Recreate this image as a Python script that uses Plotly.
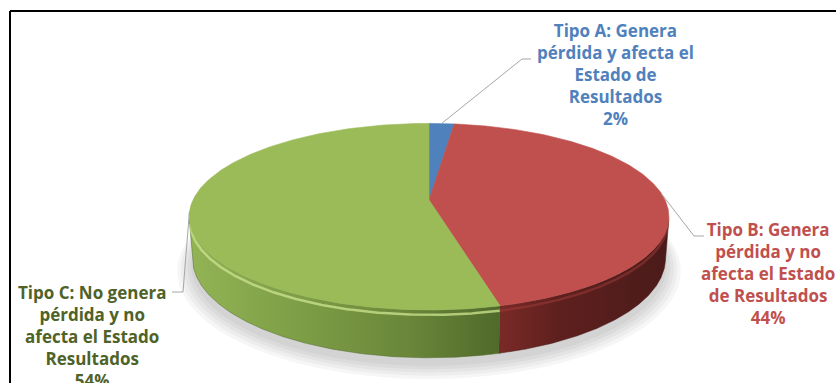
import numpy as np
import plotly.graph_objects as go

# ---------------- data ----------------
categories = ["Tipo A", "Tipo B", "Tipo C"]
values = [2, 44, 54]
label_texts = [
    "Tipo A: Genera<br>pérdida y afecta el<br>Estado de<br>Resultados",
    "Tipo B: Genera<br>pérdida y no<br>afecta el Estado<br>de Resultados",
    "Tipo C: No genera<br>pérdida y no<br>afecta el Estado<br>Resultados",
]

# ---------------- style / layout ----------------
W, H = 836, 383
top_colors = ["#4F81BD", "#C0504D", "#9BBB59"]
text_colors = ["#4F81BD", "#C0504D", "#4F6228"]
side_scales = [
    [[0, "#3a5f8c"], [1, "#2a4568"]],
    [[0, "#7a2a27"], [0.35, "#5e201e"], [1, "#4a1b1a"]],
    [[0, "#93b455"], [0.25, "#84a44a"], [0.7, "#6a873a"], [1, "#4f6a2a"]],
]
rim_colors = ["rgba(120,160,210,0.4)", "rgba(160,60,58,0.5)", "rgba(200,224,140,0.8)"]

CX, CY = 429, 200          # projected pie centre (pixels)
TILT = np.radians(22.5)
DIST = 5.16
FOC = 1218.0
THICK = 0.19
S, C = np.sin(TILT), np.cos(TILT)

label_pos = [(615, 74), (768, 273), (92, 336)]
leader_pts = [[(522, 59), (531, 59)], [(694, 236), (704, 236)], [(183, 292), (172, 292)]]


def proj(u, v, h):
    u = np.asarray(u, float); v = np.asarray(v, float); h = np.asarray(h, float)
    depth = DIST - h * S - v * C
    x = CX + u * FOC / depth
    y = CY - (h * C - v * S) * FOC / depth
    return x, y


total = float(sum(values))
cum = np.cumsum([0] + values) / total
starts = 2 * np.pi * cum[:-1]
ends = 2 * np.pi * cum[1:]

fig = go.Figure()

# soft shadow under the pie
for k in range(5):
    th = np.linspace(0, 2 * np.pi, 361)
    r = 1.0 + 0.012 * k
    xs, ys = proj(r * np.sin(th), -r * np.cos(th) + 0.04 + 0.01 * k, -THICK - 0.01)
    fig.add_trace(go.Scatter(x=xs, y=ys, fill="toself", mode="none",
                             fillcolor="rgba(0,0,0,0.035)", hoverinfo="skip"))

# visible side range
vmin = 1.0 / (DIST * C)
lo = np.arccos(-vmin)
hi = 2 * np.pi - lo

# sides
for i in range(len(values)):
    a, b = max(starts[i], lo), min(ends[i], hi)
    if b <= a:
        continue
    th = np.linspace(a, b, 300)
    u, v = np.sin(th), -np.cos(th)
    xt, yt = proj(u, v, 0.0)
    xb, yb = proj(u, v, -THICK)
    xs = np.concatenate([xt, xb[::-1], xt[:1]])
    ys = np.concatenate([yt, yb[::-1], yt[:1]])
    fig.add_trace(go.Scatter(
        x=xs, y=ys, fill="toself", mode="lines", line=dict(width=0.5, color=side_scales[i][-1][1]),
        fillgradient=dict(type="horizontal", colorscale=side_scales[i],
                          start=float(xs.min()), stop=float(xs.max())),
        hoverinfo="skip"))
    # rim highlight (bevel)
    xr, yr = proj(u * 0.998, v * 0.998, -0.02)
    fig.add_trace(go.Scatter(x=xr, y=yr, mode="lines",
                             line=dict(color=rim_colors[i], width=2.5), hoverinfo="skip"))

# top faces
for i in range(len(values)):
    th = np.linspace(starts[i], ends[i], 300)
    u, v = np.sin(th), -np.cos(th)
    xt, yt = proj(u, v, 0.0)
    xs = np.concatenate([[CX], xt, [CX]])
    ys = np.concatenate([[CY], yt, [CY]])
    fig.add_trace(go.Scatter(x=xs, y=ys, fill="toself", mode="lines",
                             line=dict(width=0.6, color=top_colors[i]),
                             fillcolor=top_colors[i], hoverinfo="skip"))

# leader lines and labels
for i in range(len(values)):
    mid = 0.5 * (starts[i] + ends[i])
    ax, ay = proj(np.sin(mid), -np.cos(mid), 0.0)
    pts = [(float(ax), float(ay))] + leader_pts[i]
    fig.add_trace(go.Scatter(x=[p[0] for p in pts], y=[p[1] for p in pts], mode="lines",
                             line=dict(color="#a6a6a6", width=1), hoverinfo="skip"))
    pct = round(100 * values[i] / total)
    fig.add_annotation(x=label_pos[i][0], y=label_pos[i][1], xref="x", yref="y",
                       text=f"{label_texts[i]}<br>{pct}%", showarrow=False,
                       align="center", xanchor="center", yanchor="middle",
                       font=dict(family="Open Sans", size=17, color=text_colors[i], weight="bold"))

# chart frame (left/top visible)
fig.add_shape(type="line", x0=10, x1=10, y0=11, y1=H + 5, xref="x", yref="y",
              line=dict(color="black", width=2))
fig.add_shape(type="line", x0=10, x1=W + 5, y0=11, y1=11, xref="x", yref="y",
              line=dict(color="black", width=2))

fig.update_layout(
    width=W, height=H, margin=dict(l=0, r=0, t=0, b=0),
    paper_bgcolor="white", plot_bgcolor="white", showlegend=False,
    xaxis=dict(range=[0, W], visible=False, fixedrange=True),
    yaxis=dict(range=[H, 0], visible=False, fixedrange=True),
)
fig.write_html("out.html")
